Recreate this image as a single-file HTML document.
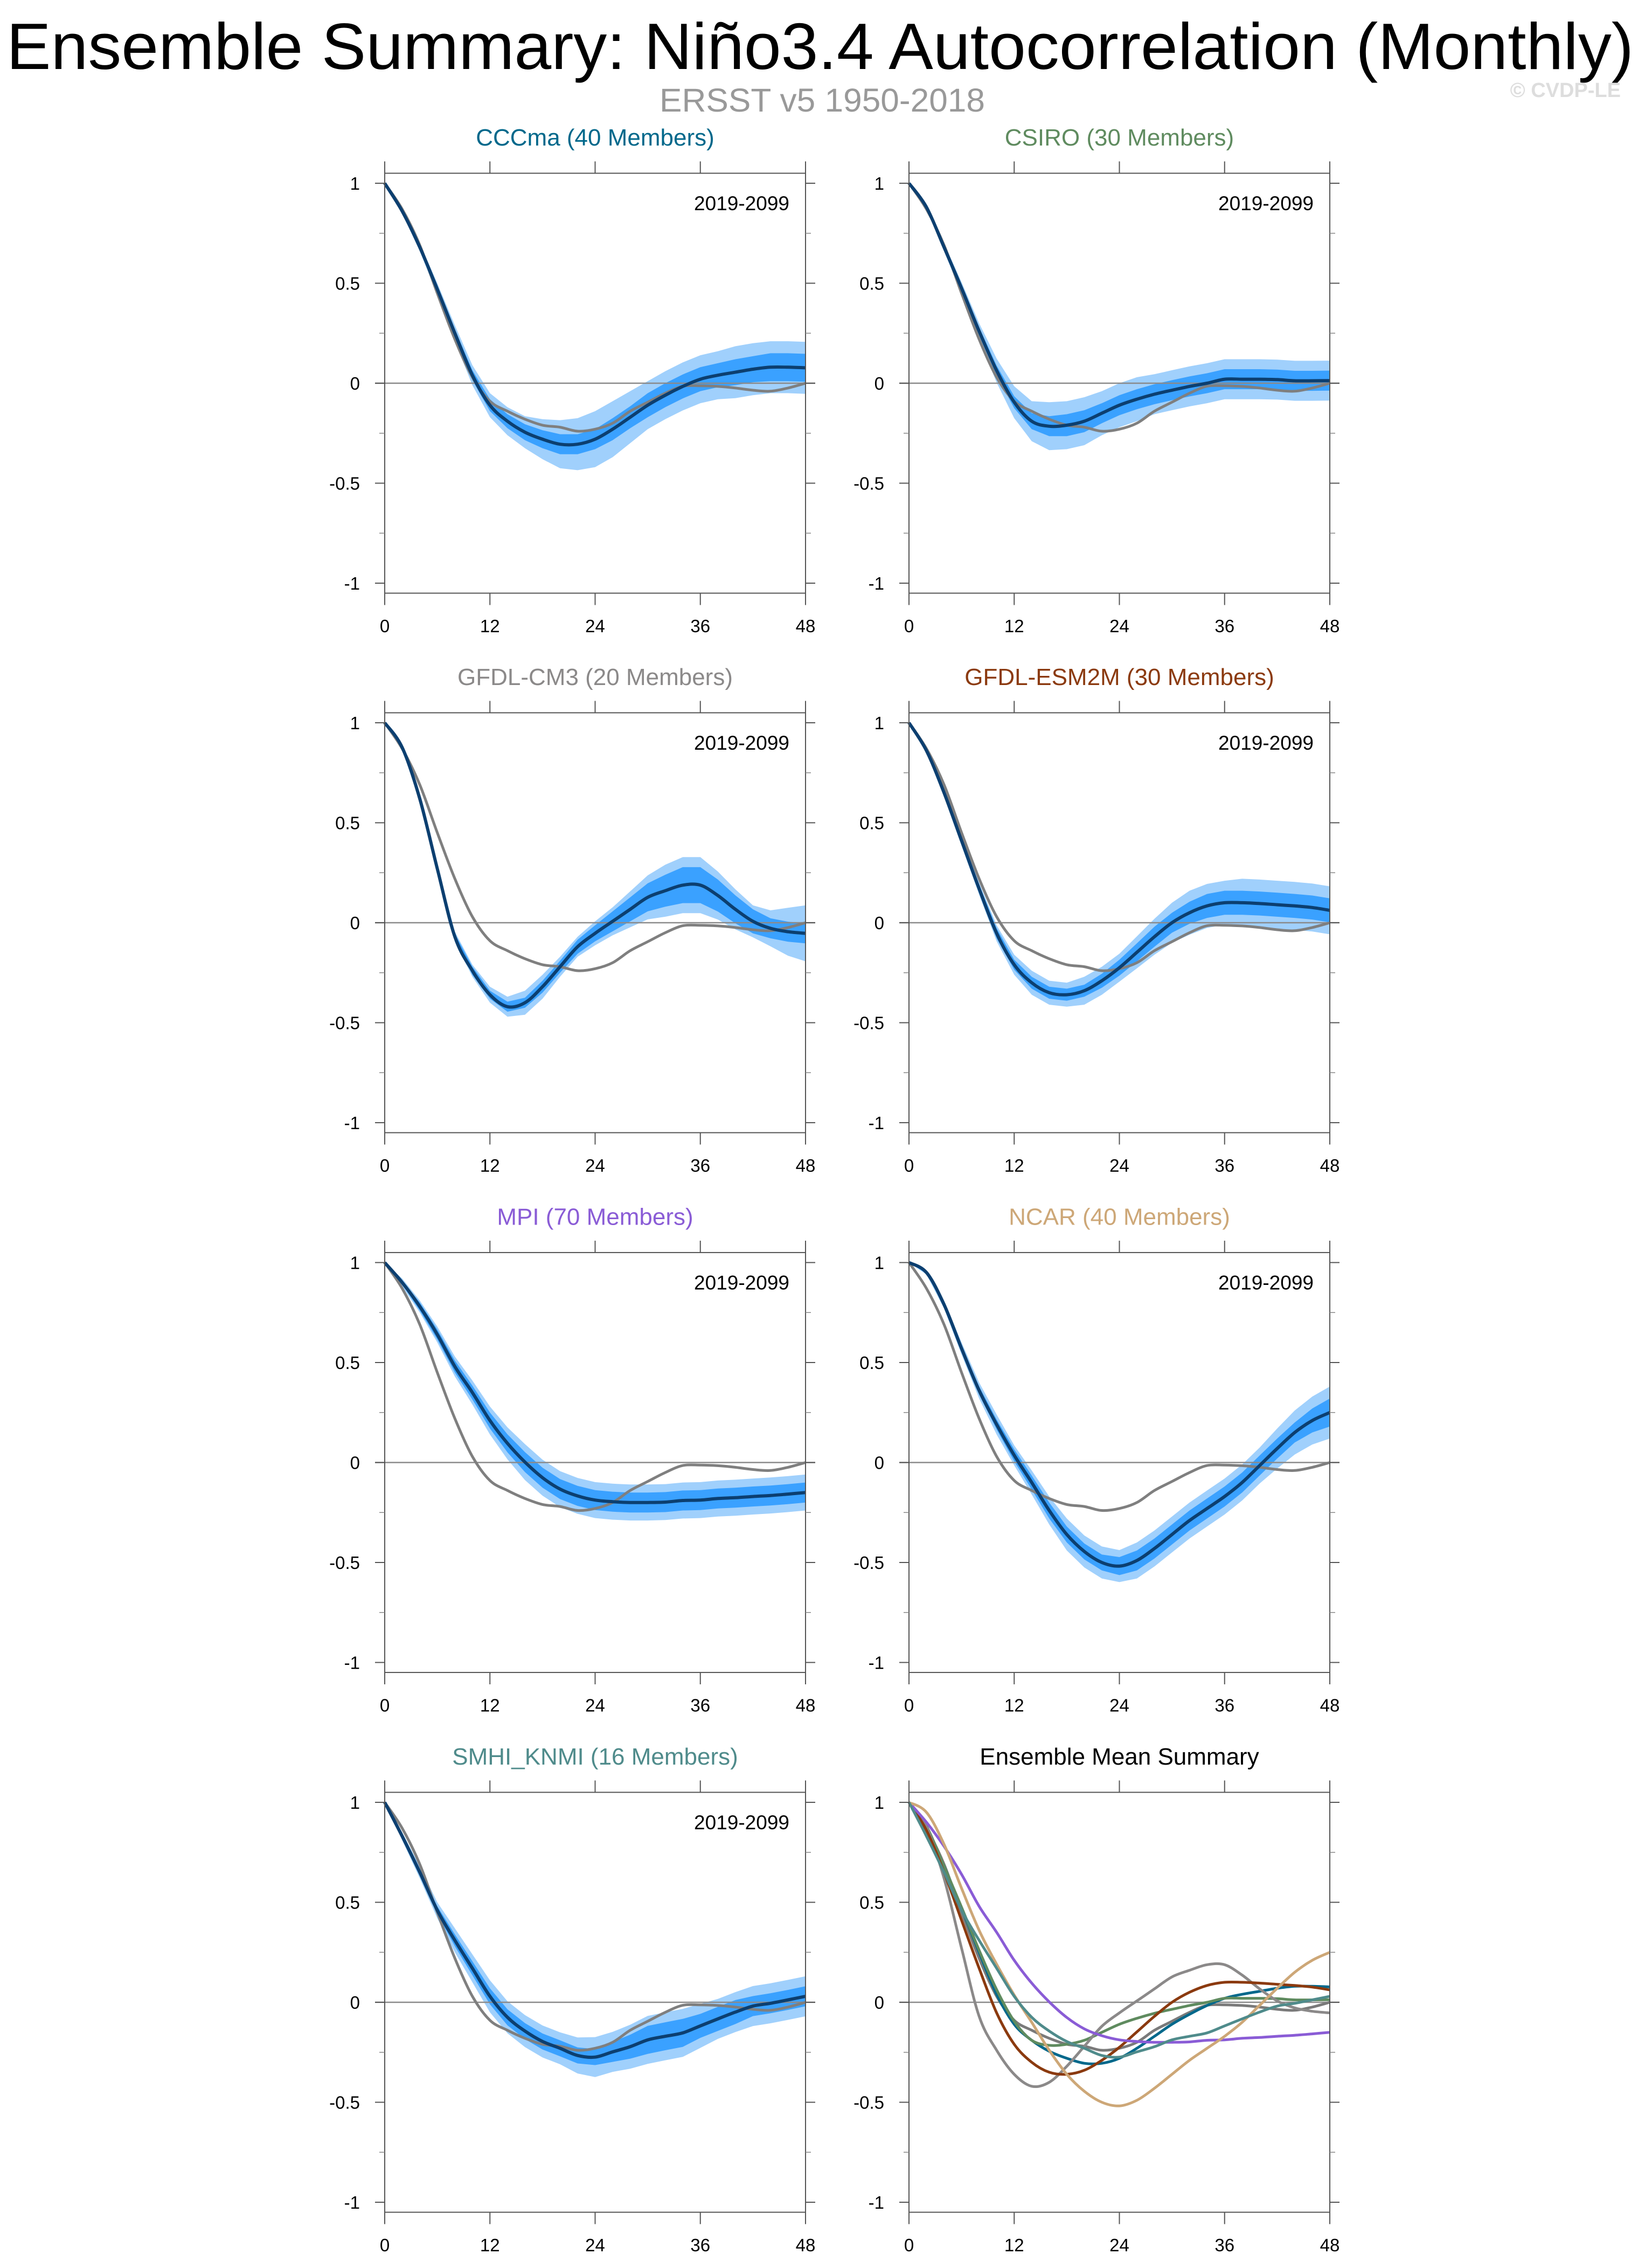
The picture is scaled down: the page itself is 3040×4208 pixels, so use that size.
<!DOCTYPE html>
<html><head><meta charset="utf-8"><style>
html,body{margin:0;padding:0;background:#fff;}
svg{display:block;font-family:"Liberation Sans",Arial,sans-serif;}
</style></head><body>
<svg id="chart" width="3040" height="4208" viewBox="0 0 3040 4208" xmlns="http://www.w3.org/2000/svg">
<rect x="0" y="0" width="3040" height="4208" fill="#fff"/>
<text x="1522" y="128" text-anchor="middle" font-size="122" textLength="3020" lengthAdjust="spacingAndGlyphs" fill="#000">Ensemble Summary: Niño3.4 Autocorrelation (Monthly)</text>
<text x="1526" y="207" text-anchor="middle" font-size="61" textLength="604" lengthAdjust="spacingAndGlyphs" fill="#999">ERSST v5 1950-2018</text>
<text x="3008" y="180" text-anchor="end" font-size="38" font-weight="bold" fill="#ddd">© CVDP-LE</text>
<g id="panels"></g>
</svg>
<script>
const lags = [0,2,4,6,8,10,12,14,16,18,20,22,24,26,28,30,32,34,36,38,40,42,44,46,48];
const xTicks = [0,12,24,36,48];
const yTicks = [-1,-0.5,0,0.5,1];
const yTickLabels = ["-1","-0.5","0","0.5","1"];
const yMinor = [-0.75,-0.25,0.25,0.75];

const obsMean = [1,0.87,0.69,0.45,0.22,0.03,-0.09,-0.14,-0.18,-0.21,-0.22,-0.24,-0.23,-0.2,-0.14,-0.095,-0.05,-0.015,-0.013,-0.016,-0.024,-0.035,-0.04,-0.024,0];

const cccmaMean = [1,0.86,0.68,0.47,0.25,0.04,-0.11,-0.19,-0.245,-0.28,-0.305,-0.305,-0.28,-0.23,-0.17,-0.11,-0.06,-0.016,0.02,0.04,0.055,0.07,0.08,0.08,0.077];
const cccmaInner = [0,0.005,0.01,0.015,0.02,0.025,0.03,0.035,0.04,0.045,0.05,0.05,0.05,0.055,0.055,0.06,0.06,0.06,0.06,0.06,0.065,0.065,0.07,0.07,0.07];
const cccmaOuter = [0,0.01,0.02,0.03,0.04,0.05,0.06,0.07,0.08,0.1,0.12,0.13,0.14,0.14,0.13,0.12,0.12,0.12,0.12,0.12,0.13,0.13,0.13,0.13,0.13];

const csiroMean = [1,0.88,0.68,0.475,0.26,0.063,-0.095,-0.19,-0.215,-0.21,-0.19,-0.15,-0.11,-0.08,-0.055,-0.035,-0.016,0,0.02,0.02,0.02,0.018,0.012,0.012,0.013];
const csiroInner = [0,0.005,0.01,0.015,0.02,0.025,0.03,0.04,0.05,0.055,0.055,0.05,0.05,0.05,0.05,0.05,0.05,0.05,0.05,0.05,0.05,0.05,0.05,0.05,0.05];
const csiroOuter = [0,0.01,0.02,0.03,0.04,0.06,0.08,0.1,0.12,0.12,0.12,0.11,0.11,0.11,0.1,0.1,0.1,0.1,0.1,0.1,0.1,0.1,0.1,0.1,0.1];

const cm3Mean = [1,0.876,0.62,0.27,-0.07,-0.24,-0.36,-0.42,-0.4,-0.32,-0.22,-0.12,-0.053,0.007,0.067,0.127,0.16,0.188,0.188,0.136,0.067,0.007,-0.028,-0.045,-0.053];
const cm3Inner = [0,0.005,0.01,0.01,0.015,0.02,0.02,0.025,0.025,0.03,0.03,0.035,0.04,0.05,0.06,0.07,0.08,0.09,0.09,0.08,0.07,0.06,0.05,0.05,0.05];
const cm3Outer = [0,0.01,0.015,0.02,0.025,0.03,0.04,0.05,0.06,0.06,0.05,0.05,0.06,0.07,0.09,0.11,0.13,0.14,0.14,0.12,0.1,0.08,0.09,0.12,0.14];

const esm2mMean = [1,0.86,0.65,0.41,0.17,-0.053,-0.21,-0.3,-0.35,-0.36,-0.34,-0.29,-0.225,-0.148,-0.07,0,0.05,0.084,0.1,0.1,0.096,0.09,0.084,0.076,0.062];
const esm2mInner = [0,0.005,0.01,0.015,0.02,0.025,0.025,0.03,0.03,0.03,0.03,0.035,0.04,0.045,0.05,0.05,0.055,0.06,0.06,0.06,0.06,0.06,0.06,0.06,0.06];
const esm2mOuter = [0,0.01,0.02,0.025,0.03,0.04,0.05,0.06,0.06,0.06,0.07,0.07,0.07,0.08,0.09,0.1,0.11,0.11,0.11,0.12,0.12,0.12,0.12,0.12,0.12];

const mpiMean = [1,0.9,0.78,0.64,0.48,0.35,0.21,0.096,0.002,-0.076,-0.133,-0.167,-0.188,-0.196,-0.2,-0.2,-0.198,-0.19,-0.188,-0.18,-0.176,-0.17,-0.165,-0.158,-0.15];
const mpiInner = [0,0.01,0.02,0.025,0.03,0.035,0.04,0.045,0.05,0.05,0.05,0.05,0.05,0.05,0.05,0.05,0.05,0.05,0.05,0.05,0.05,0.05,0.05,0.05,0.05];
const mpiOuter = [0,0.02,0.03,0.04,0.05,0.06,0.07,0.08,0.09,0.09,0.09,0.09,0.09,0.09,0.09,0.09,0.09,0.09,0.09,0.09,0.09,0.09,0.09,0.09,0.09];

const ncarMean = [1,0.95,0.79,0.57,0.36,0.19,0.036,-0.1,-0.24,-0.36,-0.445,-0.5,-0.518,-0.49,-0.43,-0.36,-0.29,-0.23,-0.17,-0.1,-0.015,0.07,0.15,0.21,0.25];
const ncarInner = [0,0.005,0.01,0.015,0.02,0.025,0.03,0.035,0.04,0.04,0.04,0.04,0.045,0.05,0.05,0.05,0.05,0.05,0.05,0.05,0.05,0.05,0.05,0.06,0.07];
const ncarOuter = [0,0.01,0.02,0.03,0.04,0.05,0.05,0.06,0.07,0.08,0.08,0.08,0.08,0.09,0.09,0.09,0.09,0.09,0.09,0.09,0.09,0.1,0.11,0.12,0.13];

const smhiMean = [1,0.83,0.65,0.46,0.31,0.17,0.03,-0.075,-0.144,-0.196,-0.23,-0.266,-0.274,-0.248,-0.222,-0.188,-0.17,-0.153,-0.118,-0.083,-0.049,-0.019,-0.005,0.012,0.03];
const smhiInner = [0,0.01,0.015,0.02,0.03,0.035,0.04,0.04,0.04,0.04,0.04,0.04,0.04,0.05,0.06,0.07,0.07,0.07,0.06,0.06,0.06,0.05,0.05,0.05,0.05];
const smhiOuter = [0,0.02,0.03,0.04,0.06,0.07,0.08,0.08,0.08,0.08,0.08,0.09,0.1,0.1,0.11,0.12,0.12,0.12,0.11,0.1,0.1,0.1,0.1,0.1,0.1];

const modelNames = ["CCCma (40 Members)","CSIRO (30 Members)","GFDL-CM3 (20 Members)","GFDL-ESM2M (30 Members)","MPI (70 Members)","NCAR (40 Members)","SMHI_KNMI (16 Members)"];
const modelColors = ["#00688b","#5f8b5f","#8b8989","#8b3a0f","#8a5cd6","#cda777","#4f8b8b"];
const modelMeans = [cccmaMean,csiroMean,cm3Mean,esm2mMean,mpiMean,ncarMean,smhiMean];
const modelInner = [cccmaInner,csiroInner,cm3Inner,esm2mInner,mpiInner,ncarInner,smhiInner];
const modelOuter = [cccmaOuter,csiroOuter,cm3Outer,esm2mOuter,mpiOuter,ncarOuter,smhiOuter];

const NS = "http://www.w3.org/2000/svg";
const root = document.getElementById("panels");
const colLeft = [714, 1687];
const plotW = 781;
const rowZero = [711, 1712, 2713.5, 3715];
const unit = 371;

function mk(tag, attrs, parent){
  const e = document.createElementNS(NS, tag);
  for (const k in attrs) e.setAttribute(k, attrs[k]);
  parent.appendChild(e);
  return e;
}
function smoothPath(pts){
  let d = "M" + pts[0][0].toFixed(1) + "," + pts[0][1].toFixed(1);
  for (let i = 0; i < pts.length - 1; i++){
    const p0 = pts[Math.max(0,i-1)], p1 = pts[i], p2 = pts[i+1], p3 = pts[Math.min(pts.length-1,i+2)];
    const c1x = p1[0] + (p2[0]-p0[0])/6, c1y = p1[1] + (p2[1]-p0[1])/6;
    const c2x = p2[0] - (p3[0]-p1[0])/6, c2y = p2[1] - (p3[1]-p1[1])/6;
    d += " C" + c1x.toFixed(1) + "," + c1y.toFixed(1) + " " + c2x.toFixed(1) + "," + c2y.toFixed(1) + " " + p2[0].toFixed(1) + "," + p2[1].toFixed(1);
  }
  return d;
}

function drawPanel(idx, row, col, title, titleColor, isSummary){
  const L = colLeft[col], R = L + plotW, y0 = rowZero[row];
  const xs = l => L + l / 48 * plotW;
  const ys = v => y0 - v * unit;
  const top = ys(1.05), bot = ys(-1.05);
  const g = mk("g", {}, root);
  
  

  const t = mk("text", {x:(L+R)/2, y:y0-441, "text-anchor":"middle", "font-size":44, fill:titleColor}, g);
  t.textContent = title;
  
  

  if (!isSummary){
    const mean = modelMeans[idx], inner = modelInner[idx], outer = modelOuter[idx];
    const bandPts = (s, sign) => lags.map((l,i) => xs(l).toFixed(1) + "," + ys(mean[i] + sign*s[i]).toFixed(1));
    const outerPoly = mk("polygon", {points: bandPts(outer,1).concat(bandPts(outer,-1).reverse()).join(" "), fill:"#a0d0fc", stroke:"none"}, g);
    
    
    const innerPoly = mk("polygon", {points: bandPts(inner,1).concat(bandPts(inner,-1).reverse()).join(" "), fill:"#3aa1ff", stroke:"none"}, g);
    
    
  }

  const zl = mk("line", {x1:L-18, x2:R+18, y1:ys(0), y2:ys(0), stroke:"#8a8a8a", "stroke-width":2.5}, g);
  
  

  if (!isSummary){
    const ob = mk("path", {d: smoothPath(lags.map((l,i)=>[xs(l), ys(obsMean[i])])), fill:"none", stroke:"#7f7f7f", "stroke-width":5}, g);
    
    
    const mn = mk("path", {d: smoothPath(lags.map((l,i)=>[xs(l), ys(modelMeans[idx][i])])), fill:"none", stroke:"#0c3f70", "stroke-width":6}, g);
    
    
    const per = mk("text", {x:R-30, y:y0-321, "text-anchor":"end", "font-size":37, fill:"#000"}, g);
    per.textContent = "2019-2099";
    
    
  } else {
    const ob = mk("path", {d: smoothPath(lags.map((l,i)=>[xs(l), ys(obsMean[i])])), fill:"none", stroke:"#7a7a7a", "stroke-width":5}, g);
    
    
    modelMeans.forEach((m, k) => {
      const p = mk("path", {d: smoothPath(lags.map((l,i)=>[xs(l), ys(m[i])])), fill:"none", stroke:modelColors[k], "stroke-width":5}, g);
      
      
    });
  }

  // frame
  const fr = mk("rect", {x:L, y:top, width:plotW, height:bot-top, fill:"none", stroke:"#555", "stroke-width":2}, g);
  
  

  xTicks.forEach(v => {
    const x = xs(v);
    mk("line", {x1:x, x2:x, y1:top-22, y2:top, stroke:"#555", "stroke-width":2}, g);
    mk("line", {x1:x, x2:x, y1:bot, y2:bot+22, stroke:"#555", "stroke-width":2}, g);
    const tl = mk("text", {x:x, y:y0+462, "text-anchor":"middle", "font-size":33, fill:"#000"}, g);
    tl.textContent = String(v);
    
    
  });
  yTicks.forEach((v, i) => {
    const y = ys(v);
    mk("line", {x1:L-18, x2:L, y1:y, y2:y, stroke:"#555", "stroke-width":2}, g);
    mk("line", {x1:R, x2:R+18, y1:y, y2:y, stroke:"#555", "stroke-width":2}, g);
    const tl = mk("text", {x:L-46, y:y+12, "text-anchor":"end", "font-size":33, fill:"#000"}, g);
    tl.textContent = yTickLabels[i];
    
    
  });
  yMinor.forEach(v => {
    const y = ys(v);
    mk("line", {x1:L-10, x2:L, y1:y, y2:y, stroke:"#888", "stroke-width":1.5}, g);
    mk("line", {x1:R, x2:R+10, y1:y, y2:y, stroke:"#888", "stroke-width":1.5}, g);
  });
}

for (let i = 0; i < 7; i++){
  drawPanel(i, Math.floor(i/2), i%2, modelNames[i], modelColors[i], false);
}
drawPanel(7, 3, 1, "Ensemble Mean Summary", "#000", true);
</script>
</body></html>
